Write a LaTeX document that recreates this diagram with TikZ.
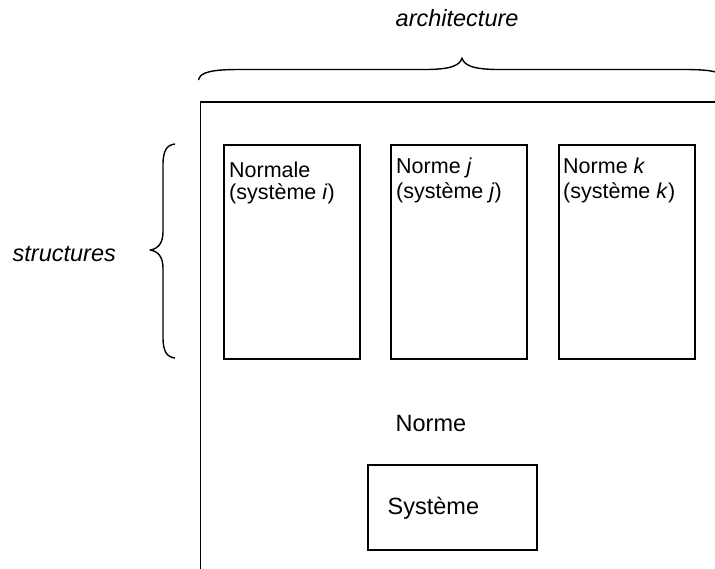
\documentclass[tikz,border=0pt]{standalone}
\usepackage{fontspec}
\setmainfont{Liberation Sans}
\begin{document}
\begin{tikzpicture}[x=1pt,y=-1pt,
  box/.style={draw, line width=1.6pt, inner sep=0pt, anchor=north west},
  brace/.style={draw, line width=1.4pt, line join=round},
  small/.style={inner sep=0pt, anchor=base west, font=\fontsize{21.5}{25}\selectfont},
  large/.style={inner sep=0pt, anchor=base west, font=\fontsize{23.5}{28}\selectfont}]
  \clip (0,0) rectangle (715,568);

  % enclosing frame (runs off the right and bottom edges)
  \node[box, minimum width=600pt, minimum height=560pt] (frame) at (199.5,101) {};

  % the three structure boxes
  \node[box, minimum width=136pt, minimum height=214pt] (si) at (223,144) {};
  \node[box, minimum width=136pt, minimum height=214pt] (sj) at (390,144) {};
  \node[box, minimum width=136pt, minimum height=214pt] (sk) at (558,144) {};

  \node[small] (ti1) at (229,177) {Normale};
  \node[small] (ti2) at (229,199) {(système \textit{i})};
  \node[small] (tj1) at (396,173) {Norme \textit{j}};
  \node[small] (tj2) at (396,198) {(système \textit{j})};
  \node[small] (tk1) at (563,173) {Norme \textit{k}};
  \node[small] (tk2) at (563,198) {(système \textit{k})};

  % norm and system
  \node[large] (norme) at (395.5,431) {Norme};
  \node[box, minimum width=169pt, minimum height=85pt] (sys) at (367,464) {};
  \node[large] (systeme) at (387.5,514.5) {Système};

  % labels
  \node[large, font=\fontsize{23.5}{28}\selectfont\itshape] (arch) at (395.5,26) {architecture};
  \node[large, font=\fontsize{23.5}{28}\selectfont\itshape] (struct) at (12.5,261) {structures};

  % horizontal brace over the frame
  \draw[brace] (198.5,80) .. controls (200,72) and (212,69.5) .. (240,69.5)
    -- (425,69.5) .. controls (452,69.5) and (460,65) .. (462,58)
    .. controls (464,65) and (472,69.5) .. (499,69.5)
    -- (684,69.5) .. controls (712,69.5) and (724,72) .. (725.5,80);

  % vertical brace beside the structures
  \draw[brace] (175,144) .. controls (167,145) and (163,150) .. (163,165)
    -- (163,232) .. controls (163,243) and (158,249) .. (150,250)
    .. controls (158,251) and (163,257) .. (163,268)
    -- (163,337) .. controls (163,352) and (167,357) .. (175,358);
\end{tikzpicture}
\end{document}
